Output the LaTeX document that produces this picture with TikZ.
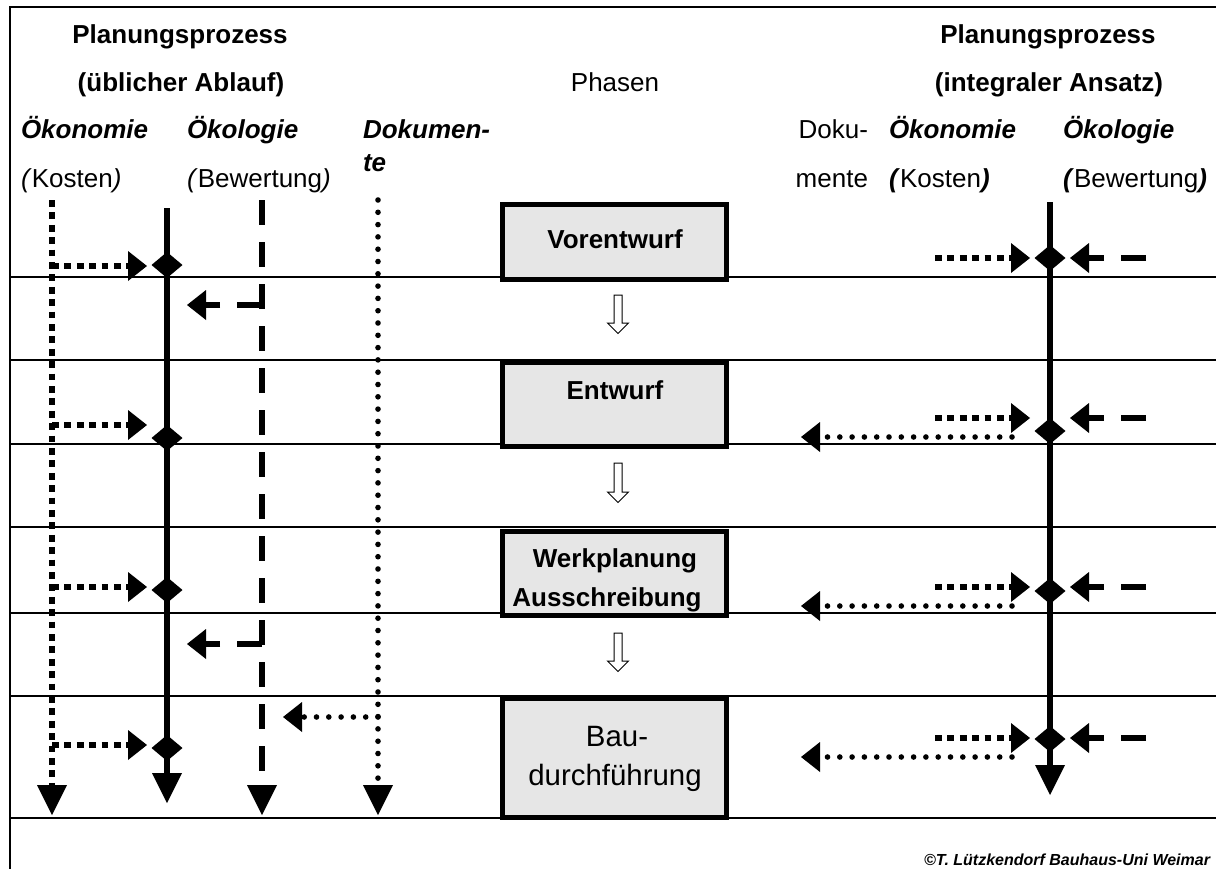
\documentclass[tikz,border=0pt]{standalone}
\usepackage{fontspec}
\setmainfont{Liberation Sans}
\usetikzlibrary{arrows.meta,shapes.geometric}
\definecolor{boxgray}{RGB}{230,230,230}
\begin{document}
\begin{tikzpicture}[x=0.5pt,y=-0.5pt,
  every node/.style={inner sep=0pt, outer sep=0pt, font=\fontsize{13}{15}\selectfont},
  lbl/.style={anchor=base west},
  bi/.style={font=\fontsize{13}{15}\selectfont\bfseries\itshape},
  hd/.style={anchor=base, font=\fontsize{13}{15}\selectfont\bfseries},
  boxtxt/.style={anchor=base, font=\fontsize{13}{15}\selectfont\bfseries},
  boxtxtr/.style={anchor=base, font=\fontsize{14.7}{17}\selectfont},
  rowline/.style={line width=0.85pt},
  phasebox/.style={draw, line width=2.5pt, fill=boxgray},
  solidline/.style={line width=3.4pt},
  sqdot/.style={line width=3.4pt, dash pattern=on 3.4pt off 2.8pt},
  rddot/.style={line width=2.8pt, dash pattern=on 0pt off 6.15pt, line cap=round},
  dashline/.style={line width=3.4pt, dash pattern=on 12.5pt off 8.5pt},
  vtip/.style={-{Triangle[length=15pt,width=15pt,line width=0pt]}},
  htip/.style={-{Triangle[length=9.5pt,width=15pt,line width=0pt]}},
  dia/.style={diamond, fill=black, minimum width=15.5pt, minimum height=13pt},
  blockarrow/.style={draw, line width=0.5pt, fill=white, line join=miter}
]
\useasboundingbox (0,0) rectangle (1216,868);

% frame
\draw[line width=1pt] (10,875) -- (10,7) -- (1225,7);

% row lines
\foreach \y in {277,360,444,527,613,696}
  \draw[rowline] (10,\y) -- (1225,\y);
\draw[line width=1pt] (10,818) -- (1225,818);

% headers
\node[hd] (h1) at (180,43) {Planungsprozess};
\node[hd] (h2) at (181,91) {(üblicher Ablauf)};
\node[anchor=base] (ph) at (615,91) {Phasen};
\node[hd] (h3) at (1048,43) {Planungsprozess};
\node[hd] (h4) at (1049,91) {(integraler Ansatz)};

\node[lbl,bi] (ok1) at (21,138) {Ökonomie};
\node[lbl] (ko1) at (21,187) {\textit{(}Kosten\textit{)}};
\node[lbl,bi] (oe1) at (187,138) {Ökologie};
\node[lbl] (be1) at (187,187) {\textit{(}Bewertung\textit{)}};
\node[lbl,bi] (do1) at (363,138) {Dokumen-};
\node[lbl,bi] (do2) at (363,171) {te};

\node[anchor=base east] (do3) at (868,138) {Doku-};
\node[anchor=base east] (do4) at (868,187) {mente};
\node[lbl,bi] (ok2) at (889,138) {Ökonomie};
\node[lbl] (ko2) at (889,187) {\textbf{\textit{(}}Kosten\textbf{\textit{)}}};
\node[lbl,bi] (oe2) at (1063,138) {Ökologie};
\node[lbl] (be2) at (1063,187) {\textbf{\textit{(}}Bewertung\textbf{\textit{)}}};

% phase boxes
\node[phasebox, minimum width=112pt, minimum height=37.5pt] (b1) at (614.5,241.5) {};
\node[phasebox, minimum width=112pt, minimum height=42pt] (b2) at (614.5,404.5) {};
\node[phasebox, minimum width=112pt, minimum height=42.25pt] (b3) at (614.5,573.25) {};
\node[phasebox, minimum width=112pt, minimum height=59.5pt] (b4) at (614.5,757.5) {};
\node[boxtxt] (t1) at (615,248) {Vorentwurf};
\node[boxtxt] (t2) at (615,399) {Entwurf};
\node[boxtxt] (t3a) at (615,567) {Werkplanung};
\node[boxtxt] (t3b) at (607,606) {Ausschreibung};
\node[boxtxtr] (t4a) at (617,746) {Bau-};
\node[boxtxtr] (t4b) at (615,785) {durchführung};

% block arrows between phases
\foreach \t/\b in {295/323, 463/492, 633/661}
  \draw[blockarrow] (614,\t) -- (622,\t) -- (622,\b) -- (628.5,\b) -- (618,{\b+10.5}) -- (607.5,\b) -- (614,\b) -- cycle;

% vertical timelines (left)
\coordinate (kTop) at (52,200);  \coordinate (kBot) at (52,815);
\coordinate (lTop) at (167,208); \coordinate (lBot) at (167,803);
\coordinate (bTop) at (262,200); \coordinate (bBot) at (262,815);
\coordinate (dTop) at (378,200); \coordinate (dBot) at (378,815);
\draw[sqdot,vtip] (kTop) -- (kBot);
\draw[solidline,vtip] (lTop) -- (lBot);
\draw[dashline,vtip] (bTop) -- (bBot);
\draw[rddot,vtip] (dTop) -- (dBot);

% vertical timeline (right)
\coordinate (rTop) at (1050,202); \coordinate (rBot) at (1050,795);
\draw[solidline,vtip] (rTop) -- (rBot);

% left: economy -> ecology
\foreach \i/\yd/\ya in {1/265/266, 2/438/425, 3/590/587, 4/748/745} {
  \coordinate (kS\i) at (52,\ya);
  \coordinate (kE\i) at (147,\ya);
  \draw[sqdot,htip] (kS\i) -- (kE\i);
  \node[dia] (dL\i) at (167,\yd) {};
}

% left: evaluation -> ecology
\foreach \i/\y in {1/305, 2/644} {
  \coordinate (bS\i) at (262,\y);
  \coordinate (bE\i) at (187,\y);
  \draw[dashline,htip] (bS\i) -- (bE\i);
}

% left: documents -> evaluation
\coordinate (dS) at (378,717);
\coordinate (dE) at (283,717);
\draw[rddot,htip] (dS) -- (dE);

% right side
\foreach \i/\yd/\ya in {1/258/258, 2/431/418, 3/591/587, 4/739/738} {
  \coordinate (rkS\i) at (935,\ya);
  \coordinate (rkE\i) at (1030,\ya);
  \draw[sqdot,htip] (rkS\i) -- (rkE\i);
  \coordinate (rbS\i) at (1146,\ya);
  \coordinate (rbE\i) at (1070,\ya);
  \draw[dashline,htip] (rbS\i) -- (rbE\i);
  \node[dia] (dR\i) at (1050,\yd) {};
}
\foreach \i/\y in {2/437, 3/606, 4/757} {
  \coordinate (rdS\i) at (1012,\y);
  \coordinate (rdE\i) at (801,\y);
  \draw[rddot,htip] (rdS\i) -- (rdE\i);
}

% copyright
\node[anchor=base east, font=\fontsize{8}{10}\selectfont\bfseries\itshape] (cr) at (1210,865) {©T. Lützkendorf Bauhaus-Uni Weimar};
\end{tikzpicture}
\end{document}
